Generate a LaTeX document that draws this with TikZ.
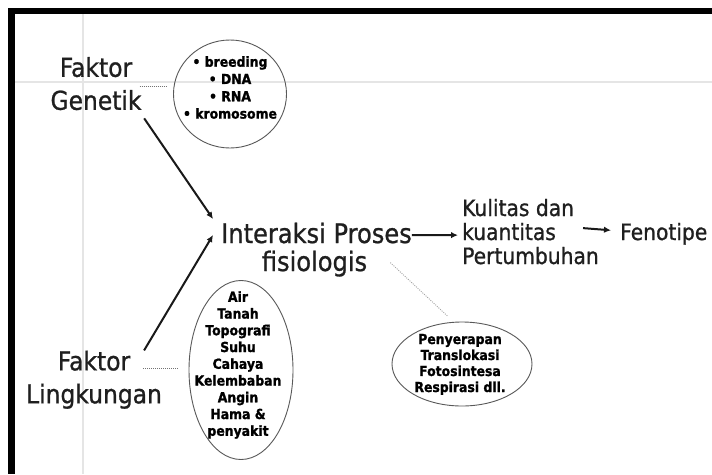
\documentclass[tikz,border=0pt]{standalone}
\usepackage{fontspec}
\setmainfont[FakeStretch=0.9]{DejaVu Sans}
\newfontfamily\regfont[FakeStretch=0.9,FakeBold=0.9]{DejaVu Sans}
\newfontfamily\heavyfont[FakeStretch=0.9,FakeBold=1.3]{DejaVu Sans Bold}
\usetikzlibrary{shapes.geometric,arrows.meta}
\tikzset{
  big/.style={font=\regfont\fontsize{26}{33}\selectfont, inner sep=0pt, align=center, text=black!88},
  mid/.style={font=\regfont\fontsize{26.8}{28}\selectfont, inner sep=0pt, text=black!88},
  med/.style={font=\regfont\fontsize{22.5}{24}\selectfont, inner sep=0pt, text=black!88},
  small/.style={font=\heavyfont\fontsize{13.8}{#1}\selectfont, inner sep=0pt, align=center, text=black},
  oval/.style={ellipse, draw=black!65, line width=0.9pt, inner sep=0pt},
  arr/.style={line width=2pt, black!90, -{Latex[length=7pt,width=6.5pt]}},
  dotline/.style={black!55, line width=1pt, dash pattern=on 1pt off 1pt},
  faintdot/.style={black!35, line width=0.9pt, dash pattern=on 1pt off 1.2pt},
  gridline/.style={black!10, line width=2pt}
}
\begin{document}
\begin{tikzpicture}[x=1pt,y=-1pt]
\useasboundingbox (0,0) rectangle (712,474);
\fill[white] (0,0) rectangle (712,474);
% faint grid lines
\draw[gridline] (83,13) -- (83,474);
\draw[gridline] (15,82) -- (712,82);
% border
\fill[black] (8,8) rectangle (712,13.5);
\fill[black] (8,8) rectangle (15,474);

% main texts
\node[big] (genetik) at (96,83.6) {Faktor\\Genetik};
\node[big] (lingk) at (94,379.7) {Faktor\\Lingkungan};
\node[mid, anchor=base] (interaksi) at (316.5,243) {Interaksi Proses};
\node[mid, anchor=base] (fisio) at (314.5,271) {fisiologis};
\node[med, anchor=base west] (kulitas) at (462,216) {Kulitas dan};
\node[med, anchor=base west] (kuant) at (462,240) {kuantitas};
\node[med, anchor=base west] (pertumb) at (462,264) {Pertumbuhan};
\node[med, anchor=base west] (feno) at (620,240) {Fenotipe};

% ovals
\node[oval, minimum width=113pt, minimum height=108pt] (gencirc) at (230,94) {};
\node[small=17.3] (gentext) at (230,87.5) {• breeding\\• DNA\\• RNA\\• kromosome};
\node[oval, minimum width=104pt, minimum height=179pt] (lingell) at (241,370) {};
\node[small=16.75] (lingtext) at (238,365) {Air\\Tanah\\Topografi\\Suhu\\Cahaya\\Kelembaban\\Angin\\Hama \&\\penyakit};
\node[oval, minimum width=140pt, minimum height=84pt] (procell) at (462,364) {};
\node[small=16] (proctext) at (460,364.4) {Penyerapan\\Translokasi\\Fotosintesa\\Respirasi dll.};

% dotted connectors
\draw[dotline] ([shift={(-2,2.4)}]genetik.east) -- ([shift={(-5.5,-8)}]gencirc.west);
\coordinate (ldA) at (143,368);
\draw[dotline] (ldA) -- ([shift={(-11,-2)}]lingell.west);
\draw[faintdot] ([shift={(23,-1)}]fisio.east) -- ([shift={(-14,-5)}]procell.north);

% arrows
\draw[arr] ([shift={(2.5,8)}]genetik.south east) -- ([shift={(-8,-14)}]interaksi.west);
\draw[arr] ([xshift=-18]lingk.north east) -- ([shift={(-8,2)}]interaksi.west);
\draw[arr] ([shift={(0,2)}]interaksi.east) -- ([shift={(-4,3.5)}]kuant.west);
\draw[arr] ([shift={(27,-3.5)}]kuant.east) -- ([shift={(-9,-3.5)}]feno.west);
\end{tikzpicture}
\end{document}
